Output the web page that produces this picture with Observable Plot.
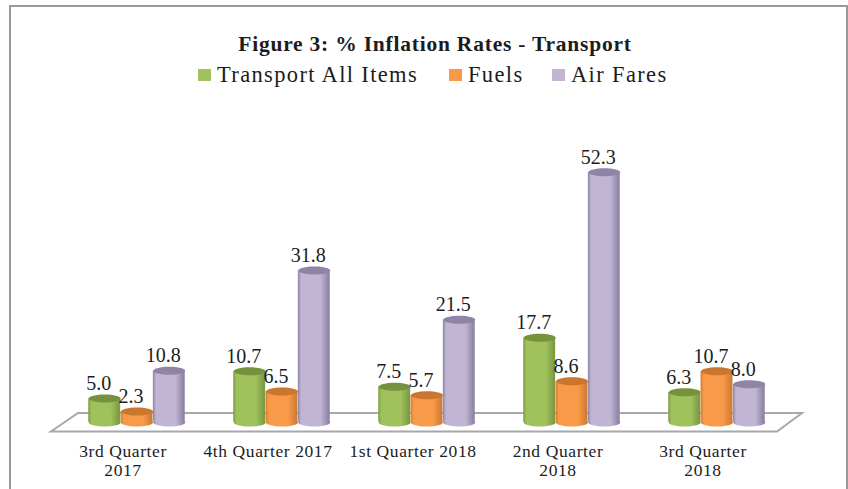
<!DOCTYPE html>
<html><head><meta charset="utf-8">
<script src="https://cdn.jsdelivr.net/npm/d3@7"></script>
<script src="https://cdn.jsdelivr.net/npm/@observablehq/plot@0.6"></script>
<style>
html,body{margin:0;padding:0;background:#fff;overflow:hidden}
#page{position:relative;width:848px;height:489px;font-family:"Liberation Serif",serif;color:#1c1c1c}
#frame{position:absolute;left:9px;top:5px;width:835px;height:484px;border:solid #9a9a9a;border-width:2px 2px 0 2px;box-sizing:content-box}
#head{position:absolute;left:0;top:0;width:848px;height:90px}
#title{position:absolute;top:32px;left:0;width:870px;text-align:center;font-weight:bold;font-size:21.5px;letter-spacing:.78px;line-height:24px}
#legend{position:absolute;top:62px;left:198px;height:26px;font-size:22.5px;letter-spacing:1.35px;line-height:26px;white-space:nowrap}
#legend span.i{position:absolute;top:0;display:block}
#legend i{position:absolute;top:7px;width:13px;height:12px}
#chart{position:absolute;left:0;top:90px}
#chart g[aria-label="fx-axis tick label"] text{letter-spacing:.6px}
svg{display:block}
</style></head>
<body><div id="page"><div id="frame"></div>
<div id="head"><div id="title"></div><div id="legend"></div></div>
<div id="chart"></div></div>
<script>
const categories = ["3rd Quarter 2017","4th Quarter 2017","1st Quarter 2018","2nd Quarter 2018","3rd Quarter 2018"];
const tickLabels = ["3rd Quarter\n2017","4th Quarter 2017","1st Quarter 2018","2nd Quarter\n2018","3rd Quarter\n2018"];
const seriesNames = ["Transport All Items","Fuels","Air Fares"];
const transportAll = [5.0,10.7,7.5,17.7,6.3];
const fuels = [2.3,6.5,5.7,8.6,10.7];
const airFares = [10.8,31.8,21.5,52.3,8.0];
const seriesColors = ["#9FC25C","#F99A48","#C0B6D4"];
const edgeColors = ["#7c9a42","#cf7c34","#8d82a3"];
const topColors = ["#76923C","#C9772F","#8F84A6"];

document.getElementById("title").textContent = "Figure 3: % Inflation Rates - Transport";
const legend = document.getElementById("legend");
const legendX = [0,251,354];
seriesNames.forEach((s,i)=>{
  const sw=document.createElement("i"); sw.style.left=legendX[i]+"px"; sw.style.background=seriesColors[i]; legend.appendChild(sw);
  const t=document.createElement("span"); t.className="i"; t.style.left=(legendX[i]+19)+"px"; t.textContent=s; legend.appendChild(t);
});

const values=[transportAll,fuels,airFares];
const rows = seriesNames.map((s,j)=>categories.map((c,i)=>({cat:c,series:s,value:values[j][i]})));

const ellipse = {draw(ctx,size){
  const rx=Math.sqrt(size/Math.PI), ry=4, k=0.5523;
  ctx.moveTo(-rx,0);
  ctx.bezierCurveTo(-rx,-ry*k,-rx*k,-ry,0,-ry);
  ctx.bezierCurveTo(rx*k,-ry,rx,-ry*k,rx,0);
  ctx.bezierCurveTo(rx,ry*k,rx*k,ry,0,ry);
  ctx.bezierCurveTo(-rx*k,ry,-rx,ry*k,-rx,0);
  ctx.closePath();
}};

const seriesMarks = rows.flatMap((data,j)=>{
  const fill=`url(#cyl${j})`;
  return [
    Plot.dot(data,{fx:"cat",x:"series",y:()=>0,dy:-2,r:16,symbol:ellipse,fill,stroke:"none"}),
    Plot.barY(data,{fx:"cat",x:"series",y:"value",dy:-2,fill,inset:0.2}),
    Plot.dot(data,{fx:"cat",x:"series",y:"value",dy:-2,r:16,symbol:ellipse,fill:topColors[j],stroke:"none"})
  ];
});
const labelMarks = rows.map(data=>Plot.text(data,{fx:"cat",x:"series",y:"value",text:d=>d.value.toFixed(1),dx:-6,dy:-17,fontSize:20,fill:"#1c1c1c"}));

const plot = Plot.plot({
  width:848,height:399,marginTop:47,marginBottom:65,marginLeft:64,marginRight:59,
  style:{fontFamily:"Liberation Serif, serif",background:"transparent",overflow:"visible"},
  fx:{domain:categories,padding:0,round:false,label:null,axis:null},
  x:{domain:seriesNames,paddingInner:0,paddingOuter:0.745,round:false,axis:null},
  y:{domain:[0,60],axis:null},
  marks:[
    ...seriesMarks,
    ...labelMarks,
    Plot.axisFx({anchor:"bottom",tickSize:0,tickPadding:19,dx:-14,label:null,fontSize:17.5,lineHeight:1.09,
      tickFormat:c=>tickLabels[categories.indexOf(c)],fill:"#1c1c1c"})
  ]
});

const root=d3.select(plot);
const defs=root.insert("defs",":first-child");
seriesColors.forEach((c,j)=>{
  const g=defs.append("linearGradient").attr("id",`cyl${j}`).attr("x1",0).attr("x2",1).attr("y1",0).attr("y2",0);
  [[0,edgeColors[j]],[0.1,c],[0.7,c],[0.97,edgeColors[j]],[1,edgeColors[j]]].forEach(([o,col])=>g.append("stop").attr("offset",o).attr("stop-color",col));
});
const [L,R]=plot.scale("fx").range, y0=plot.scale("y").apply(0);
const floor=d3.path();
floor.moveTo(L-13,y0+7.5);floor.lineTo(R-12,y0+7.5);floor.lineTo(R+13,y0-11);floor.lineTo(L+14,y0-11);floor.closePath();
root.insert("path","defs + *").attr("d",floor.toString()).attr("fill","none").attr("stroke","#a8a8a8").attr("stroke-width",2);
document.getElementById("chart").appendChild(plot);
</script></body></html>
